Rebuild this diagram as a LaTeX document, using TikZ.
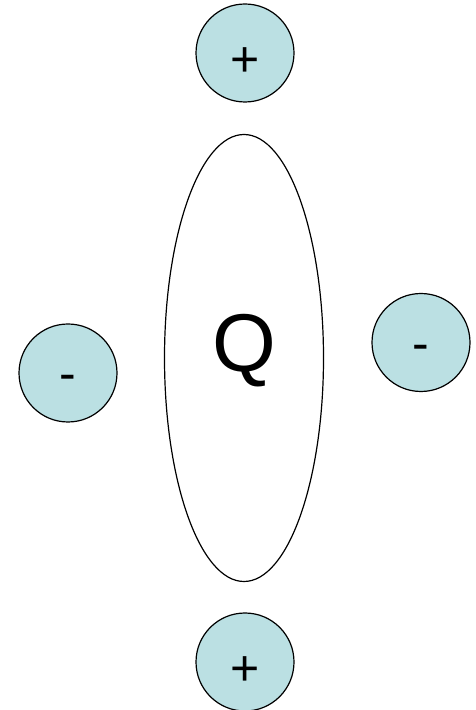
\documentclass[tikz,border=0pt]{standalone}
\usepackage{fontspec}
\setmainfont{Liberation Sans}
\usepackage{tikz}
\usetikzlibrary{shapes.geometric}
\definecolor{chargefill}{RGB}{187,224,227}

\begin{document}
\begin{tikzpicture}[x=1pt, y=1pt,
    charge/.style={circle, draw, line width=1.2pt, fill=chargefill, minimum size=98pt,
                   inner sep=0pt, text depth=0pt, font=\fontsize{50}{60}\selectfont},
    pluscharge/.style={charge, text height=47pt},
    minuscharge/.style={charge, text height=36pt},
    body/.style={ellipse, draw, line width=1.2pt, minimum width=159pt, minimum height=447pt,
                 inner sep=0pt, text height=28pt, text depth=0pt, font=\fontsize{82}{98}\selectfont}]

\useasboundingbox (0,0) rectangle (476,710);

% --- corpo centrale ---
\node[body] (qbody) at (244,352) {Q};

% --- cariche ---
\node[pluscharge] (plustop) at (245,657) {+};
\node[pluscharge] (plusbottom) at (245,48) {+};
\node[minuscharge] (minusleft) at (68,337) {-};
\node[minuscharge] (minusright) at (421,367.5) {-};

\end{tikzpicture}
\end{document}
